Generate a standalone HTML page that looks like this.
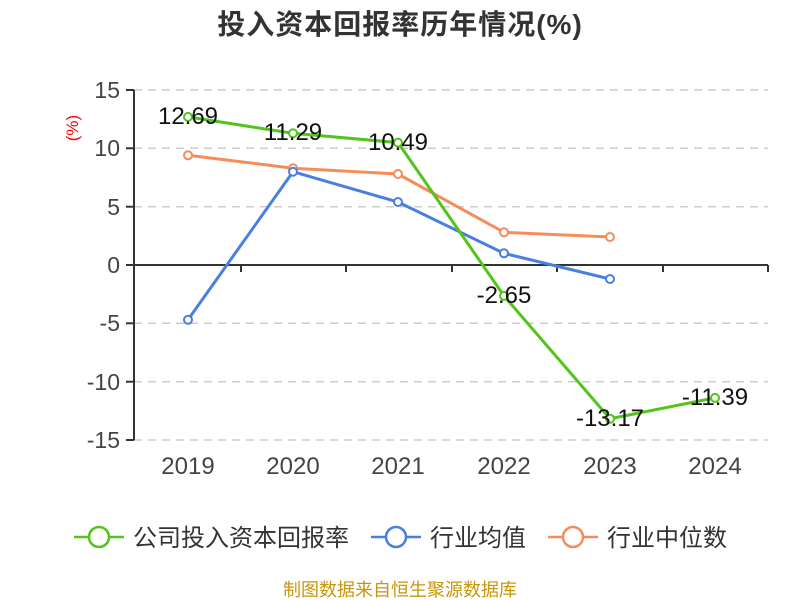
<!DOCTYPE html><html><head><meta charset="utf-8"><style>body{margin:0;background:#fff}svg{display:block}text{font-family:"Liberation Sans","Noto Sans CJK SC",sans-serif}</style></head><body>
<svg width="800" height="600" xmlns="http://www.w3.org/2000/svg">
<text x="400" y="34" text-anchor="middle" font-size="28" font-weight="bold" fill="#333" letter-spacing="1">投入资本回报率历年情况(%)</text>
<g stroke="#ccc" stroke-dasharray="8,6" stroke-width="1.5">
<line x1="134" y1="90" x2="768" y2="90"/><line x1="134" y1="148.3" x2="768" y2="148.3"/><line x1="134" y1="206.7" x2="768" y2="206.7"/><line x1="134" y1="323.3" x2="768" y2="323.3"/><line x1="134" y1="381.7" x2="768" y2="381.7"/><line x1="134" y1="440" x2="768" y2="440"/></g>
<g stroke="#333" stroke-width="2"><line x1="134" y1="90" x2="134" y2="440"/><line x1="134" y1="265" x2="768" y2="265"/>
<line x1="126" y1="90" x2="134" y2="90"/><line x1="126" y1="148.3" x2="134" y2="148.3"/><line x1="126" y1="206.7" x2="134" y2="206.7"/><line x1="126" y1="265" x2="134" y2="265"/><line x1="126" y1="323.3" x2="134" y2="323.3"/><line x1="126" y1="381.7" x2="134" y2="381.7"/><line x1="126" y1="440" x2="134" y2="440"/>
<line x1="241" y1="265" x2="241" y2="272"/><line x1="346" y1="265" x2="346" y2="272"/><line x1="452" y1="265" x2="452" y2="272"/><line x1="557" y1="265" x2="557" y2="272"/><line x1="663" y1="265" x2="663" y2="272"/><line x1="768" y1="265" x2="768" y2="272"/></g>
<g font-size="23" fill="#444" text-anchor="end"><text x="120" y="98">15</text><text x="120" y="156">10</text><text x="120" y="215">5</text><text x="120" y="273">0</text><text x="120" y="331">-5</text><text x="120" y="390">-10</text><text x="120" y="448">-15</text></g>
<g font-size="24" fill="#444" text-anchor="middle"><text x="188" y="474">2019</text><text x="293" y="474">2020</text><text x="398" y="474">2021</text><text x="504" y="474">2022</text><text x="610" y="474">2023</text><text x="715" y="474">2024</text></g>
<text x="78" y="128" font-size="17" fill="red" text-anchor="middle" transform="rotate(-90 78 128)">(%)</text>
<polyline fill="none" stroke="#f58c5a" stroke-width="3" points="188,155.3 293,168.2 398,174 504,232.3 610,237"/>
<polyline fill="none" stroke="#4a7fe0" stroke-width="3" points="188,319.8 293,171.7 398,202 504,253.3 610,279"/>
<polyline fill="none" stroke="#52c41a" stroke-width="3" points="188,116.9 293,133.3 398,142.6 504,295.9 610,418.7 715,397.9"/>
<g fill="#fff" stroke-width="2">
<g stroke="#f58c5a"><circle cx="188" cy="155.3" r="4"/><circle cx="293" cy="168.2" r="4"/><circle cx="398" cy="174" r="4"/><circle cx="504" cy="232.3" r="4"/><circle cx="610" cy="237" r="4"/></g>
<g stroke="#4a7fe0"><circle cx="188" cy="319.8" r="4"/><circle cx="293" cy="171.7" r="4"/><circle cx="398" cy="202" r="4"/><circle cx="504" cy="253.3" r="4"/><circle cx="610" cy="279" r="4"/></g>
<g stroke="#52c41a"><circle cx="188" cy="116.9" r="4"/><circle cx="293" cy="133.3" r="4"/><circle cx="398" cy="142.6" r="4"/><circle cx="504" cy="295.9" r="4"/><circle cx="610" cy="418.7" r="4"/><circle cx="715" cy="397.9" r="4"/></g></g>
<g font-size="24" fill="#111" text-anchor="middle"><text x="188" y="124">12.69</text><text x="293" y="140">11.29</text><text x="398" y="150">10.49</text><text x="504" y="303">-2.65</text><text x="610" y="426">-13.17</text><text x="715" y="405">-11.39</text></g>
<g stroke-width="2.5" fill="#fff">
<line x1="74" y1="537" x2="124" y2="537" stroke="#52c41a"/><circle cx="99" cy="537" r="10" stroke="#52c41a"/>
<line x1="371" y1="537" x2="421" y2="537" stroke="#4a7fe0"/><circle cx="396" cy="537" r="10" stroke="#4a7fe0"/>
<line x1="548" y1="537" x2="598" y2="537" stroke="#f58c5a"/><circle cx="573" cy="537" r="10" stroke="#f58c5a"/></g>
<g font-size="24" fill="#333"><text x="133" y="546">公司投入资本回报率</text><text x="430" y="546">行业均值</text><text x="607" y="546">行业中位数</text></g>
<text x="400" y="596" font-size="18" fill="#c8960a" text-anchor="middle">制图数据来自恒生聚源数据库</text>
</svg></body></html>
